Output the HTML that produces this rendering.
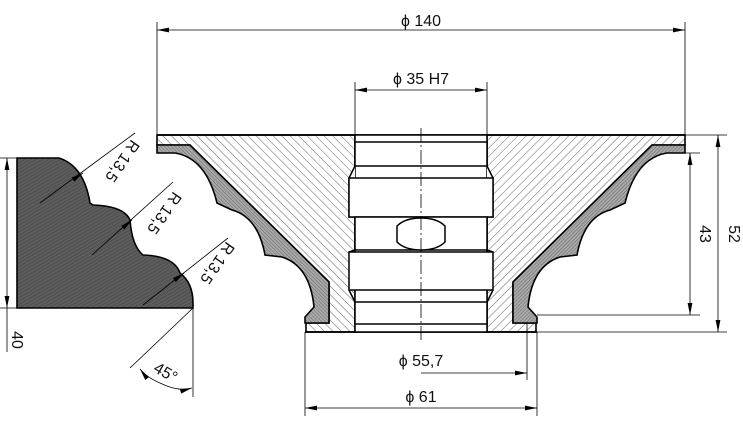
<!DOCTYPE html>
<html><head><meta charset="utf-8"><style>
html,body{margin:0;padding:0;background:#fff;}
svg{display:block;}
text{font-family:"Liberation Sans",sans-serif;font-size:16px;fill:#111;}
</style></head><body>
<svg width="743" height="424" viewBox="0 0 743 424" xmlns="http://www.w3.org/2000/svg">
<defs>
<pattern id="h" patternUnits="userSpaceOnUse" width="6" height="6" patternTransform="rotate(45)">
<rect width="6" height="6" fill="#fff"/><line x1="0" y1="0" x2="0" y2="6" stroke="#555" stroke-width="0.9"/>
</pattern>
<pattern id="c" patternUnits="userSpaceOnUse" width="2.5" height="2.5" patternTransform="rotate(45)">
<rect width="2.5" height="2.5" fill="#aaa"/><line x1="0" y1="0" x2="0" y2="2.5" stroke="#555" stroke-width="0.8"/>
</pattern>
<pattern id="d" patternUnits="userSpaceOnUse" width="3" height="3" patternTransform="rotate(60)">
<rect width="3" height="3" fill="#5c5c5c"/><line x1="0" y1="0" x2="0" y2="3" stroke="#444" stroke-width="1"/>
</pattern>
<marker id="a" viewBox="0 0 10 4" refX="10" refY="2" markerWidth="12" markerHeight="5" orient="auto" markerUnits="userSpaceOnUse">
<path d="M0,0 L10,2 L0,4 Z" fill="#000"/></marker>
<g id="half">
<path d="M487,135 L685,135 L685,145 L652,145 L513,282 L513,323 L536,323 L536,332 L487,332 Z" fill="url(#h)" stroke="#000" stroke-width="1.6"/>
<path d="M652,145 L685,145 L685,153 L667,153 Q636,158 625,203 L610,210 Q584,217 577,255 L560,257 Q532,266 528,307 L537,317 L537,323 L513,323 L513,282 Z" fill="url(#c)" stroke="#000" stroke-width="1.6"/>
</g>
</defs>

<use href="#half"/>
<use href="#half" transform="translate(842,0) scale(-1,1)"/>
<line x1="157" y1="135" x2="685" y2="135" stroke="#000" stroke-width="1.8"/>
<line x1="305" y1="332" x2="537" y2="332" stroke="#000" stroke-width="1.8"/>

<g fill="#fff" stroke="#000" stroke-width="1.5">
<rect x="355" y="135" width="132" height="197"/>
<rect x="355" y="142" width="132" height="24"/>
<path d="M355,166 L349,178 L349,217 L355,217 M487,166 L493,178 L493,217 L487,217"/>
<rect x="349" y="178" width="144" height="39"/>
<rect x="355" y="217" width="132" height="33"/>
<rect x="349" y="252" width="144" height="38"/>
<path d="M355,250 L349,252 M487,250 L493,252 M349,290 L355,302 M493,290 L487,302"/>
<rect x="355" y="302" width="132" height="22"/>
<path d="M397,234 L397,226 Q405,218 421,218 Q437,218 445,226 L445,242 Q437,250 421,250 Q405,250 397,242 Z"/>
</g>
<line x1="421" y1="128" x2="421" y2="340" stroke="#000" stroke-width="0.8" stroke-dasharray="14,3,2,3"/>

<path d="M17,158 L59,158 Q84,166 90,203 L93,205 Q124,206 130,220 Q132,246 143,255 Q174,256 180,273 Q193,283 193,303 L193,308 L17,308 Z" fill="url(#d)" stroke="#000" stroke-width="1.6"/>

<g stroke="#000" stroke-width="0.8" fill="none">
<line x1="0" y1="158" x2="17" y2="158"/><line x1="0" y1="308" x2="17" y2="308"/>
<line x1="7" y1="235" x2="7" y2="158" marker-end="url(#a)"/>
<line x1="7" y1="235" x2="7" y2="308" marker-end="url(#a)"/>
<line x1="7" y1="308" x2="7" y2="352"/>
<line x1="40" y1="203" x2="135" y2="133"/>
<line x1="80" y1="175" x2="83" y2="173" marker-end="url(#a)"/>
<line x1="92" y1="255" x2="173" y2="182"/>
<line x1="120" y1="230" x2="132" y2="220" marker-end="url(#a)"/>
<line x1="143" y1="305" x2="228" y2="238"/>
<line x1="172" y1="282" x2="184" y2="273" marker-end="url(#a)"/>
<line x1="193" y1="308" x2="193" y2="397"/>
<line x1="193" y1="308" x2="130" y2="368"/>
<path d="M160,383 Q178,392 192,388" marker-end="url(#a)"/>
<path d="M160,383 Q146,377 140,369" marker-end="url(#a)"/>
<line x1="157" y1="22" x2="157" y2="135"/><line x1="685" y1="22" x2="685" y2="135"/>
<line x1="421" y1="30" x2="157" y2="30" marker-end="url(#a)"/>
<line x1="421" y1="30" x2="685" y2="30" marker-end="url(#a)"/>
<line x1="355" y1="82" x2="355" y2="135"/><line x1="487" y1="82" x2="487" y2="135"/>
<line x1="421" y1="90" x2="355" y2="90" marker-end="url(#a)"/>
<line x1="421" y1="90" x2="487" y2="90" marker-end="url(#a)"/>
<line x1="527" y1="323" x2="527" y2="380"/>
<line x1="421" y1="373" x2="527" y2="373" marker-end="url(#a)"/>
<line x1="305" y1="332" x2="305" y2="416"/><line x1="537" y1="332" x2="537" y2="416"/>
<line x1="421" y1="408" x2="305" y2="408" marker-end="url(#a)"/>
<line x1="421" y1="408" x2="537" y2="408" marker-end="url(#a)"/>
<line x1="685" y1="135" x2="727" y2="135"/>
<line x1="537" y1="332" x2="727" y2="332"/>
<line x1="537" y1="315" x2="700" y2="315"/>
<line x1="667" y1="153" x2="700" y2="153"/>
<line x1="690" y1="234" x2="690" y2="153" marker-end="url(#a)"/>
<line x1="690" y1="234" x2="690" y2="315" marker-end="url(#a)"/>
<line x1="718" y1="234" x2="718" y2="135" marker-end="url(#a)"/>
<line x1="718" y1="234" x2="718" y2="332" marker-end="url(#a)"/>
</g>

<text x="421" y="26" text-anchor="middle">ϕ 140</text>
<text x="421" y="84" text-anchor="middle">ϕ 35 H7</text>
<text x="421" y="366" text-anchor="middle">ϕ 55,7</text>
<text x="421" y="402" text-anchor="middle">ϕ 61</text>
<text transform="translate(700,234) rotate(90)" text-anchor="middle">43</text>
<text transform="translate(729,234) rotate(90)" text-anchor="middle">52</text>
<text transform="translate(12,340) rotate(90)" text-anchor="middle">40</text>
<text transform="translate(118,158) rotate(125)" text-anchor="middle">R 13,5</text>
<text transform="translate(160,210) rotate(125)" text-anchor="middle">R 13,5</text>
<text transform="translate(213,260) rotate(125)" text-anchor="middle">R 13,5</text>
<text transform="translate(163,377) rotate(30)" text-anchor="middle">45°</text>
</svg>
</body></html>
